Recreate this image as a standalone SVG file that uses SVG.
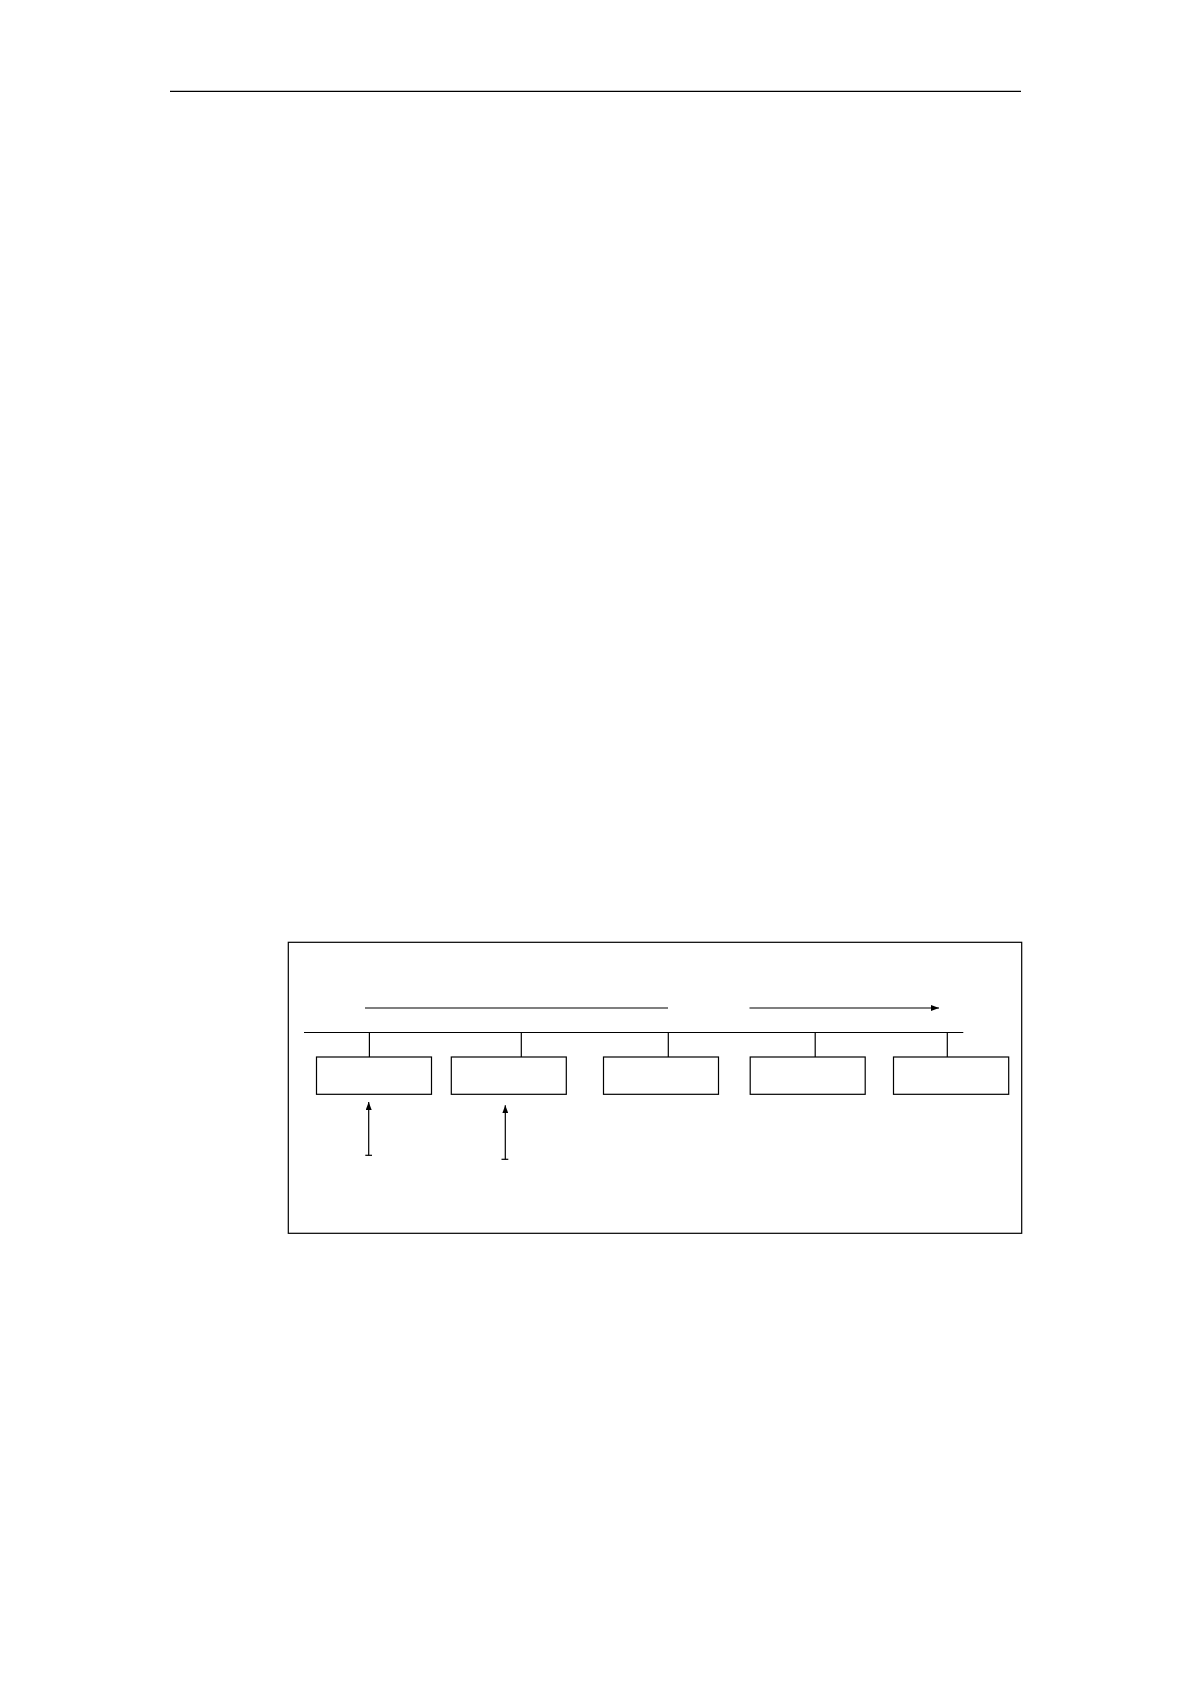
<svg xmlns="http://www.w3.org/2000/svg" width="1190" height="1684" viewBox="0 0 1190 1684">
<style>
.ln{stroke:#000;stroke-width:1.2;fill:none}
.bx{stroke:#000;stroke-width:1.2;fill:#fff}
</style>
<defs>
<marker id="ah" markerWidth="8" markerHeight="6" refX="8" refY="3" orient="auto" markerUnits="userSpaceOnUse">
<path d="M0,0 L8,3 L0,6 Z" fill="#000"/>
</marker>
</defs>
<rect width="1190" height="1684" fill="#fff"/>
<line class="ln" x1="170" y1="91.3" x2="1021" y2="91.3" stroke-width="1.4"/>
<g id="frame"><rect class="bx" x="288.3" y="942.3" width="733.4" height="291"/></g>
<g id="connectors">
<line class="ln" x1="365" y1="1008" x2="668" y2="1008"/>
<line class="ln" x1="749.5" y1="1008" x2="939" y2="1008" marker-end="url(#ah)"/>
<line class="ln" x1="304" y1="1032.5" x2="963.3" y2="1032.5"/>
<line class="ln" x1="369.4" y1="1032.5" x2="369.4" y2="1057"/>
<line class="ln" x1="521.3" y1="1032.5" x2="521.3" y2="1057"/>
<line class="ln" x1="668.3" y1="1032.5" x2="668.3" y2="1057"/>
<line class="ln" x1="815.2" y1="1032.5" x2="815.2" y2="1057"/>
<line class="ln" x1="947.3" y1="1032.5" x2="947.3" y2="1057"/>
<line class="ln" x1="368.7" y1="1155.3" x2="368.7" y2="1102" marker-end="url(#ah)"/>
<line class="ln" x1="365.3" y1="1155.3" x2="372" y2="1155.3"/>
<line class="ln" x1="505.3" y1="1159.3" x2="505.3" y2="1105.3" marker-end="url(#ah)"/>
<line class="ln" x1="501.5" y1="1159.3" x2="508.3" y2="1159.3"/>
</g>
<g id="node1"><rect class="bx" x="316.5" y="1057" width="115" height="37.3"/></g>
<g id="node2"><rect class="bx" x="451.3" y="1057" width="115" height="37.3"/></g>
<g id="node3"><rect class="bx" x="603.5" y="1057" width="115" height="37.3"/></g>
<g id="node4"><rect class="bx" x="750.2" y="1057" width="115" height="37.3"/></g>
<g id="node5"><rect class="bx" x="893.5" y="1057" width="115.2" height="37.3"/></g>
</svg>
